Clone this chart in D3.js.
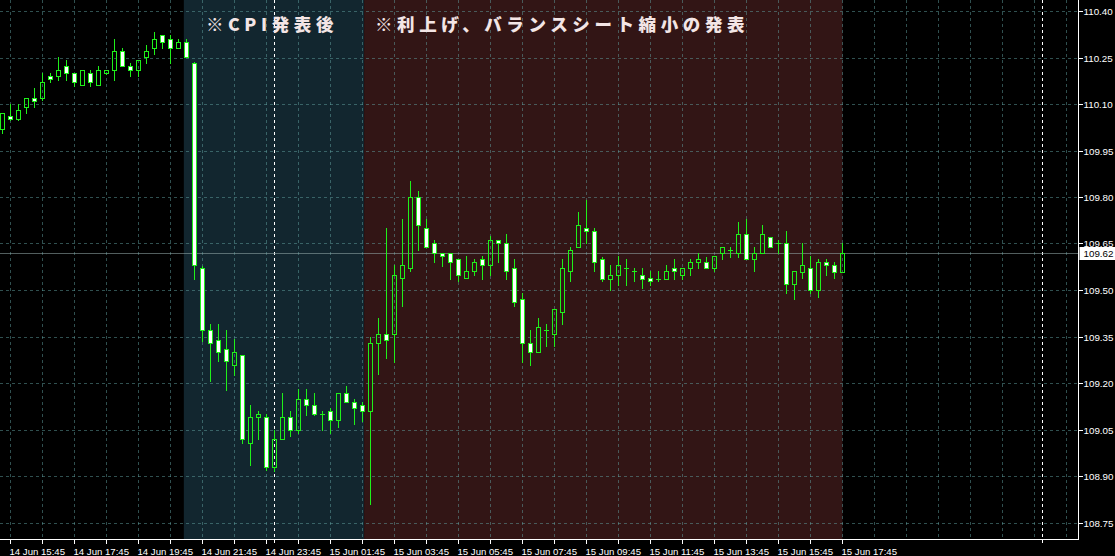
<!DOCTYPE html>
<html><head><meta charset="utf-8">
<script src="https://cdn.jsdelivr.net/npm/d3@7"></script>
<style>
html,body{margin:0;padding:0;background:#000;overflow:hidden}
svg{display:block}
</style>
</head><body>
<svg id="c" width="1115" height="556"></svg>
<script>
// ---------- data (USDJPY, M15) ----------
const firstBar = "2021-06-14 15:30";
const barMinutes = 15;
const open = [
110.019,110.062,110.052,110.090,110.119,110.118,110.190,110.189,110.223,110.200,
110.160,110.200,110.160,110.200,110.210,110.271,110.223,110.210,110.252,110.281,
110.323,110.310,110.281,110.300,110.232,109.571,109.371,109.339,109.310,109.257,
109.290,109.008,109.090,109.090,108.928,109.019,109.090,109.049,109.148,109.129,
109.100,109.111,109.081,109.168,109.139,109.129,109.110,109.329,109.358,109.358,
109.539,109.570,109.800,109.699,109.650,109.619,109.619,109.600,109.539,109.561,
109.600,109.581,109.661,109.652,109.571,109.471,109.329,109.299,109.371,109.358,
109.428,109.561,109.639,109.700,109.690,109.600,109.537,109.547,109.571,109.561,
109.548,109.539,109.537,109.537,109.571,109.547,109.571,109.590,109.590,109.571,
109.619,109.629,109.619,109.681,109.600,109.619,109.671,109.652,109.652,109.519,
109.559,109.571,109.499,109.590,109.581,109.559];
const high = [
110.071,110.101,110.101,110.119,110.152,110.200,110.200,110.252,110.243,110.200,
110.210,110.210,110.224,110.210,110.310,110.281,110.232,110.242,110.290,110.332,
110.323,110.323,110.310,110.310,110.236,109.579,109.390,109.390,109.372,109.342,
109.290,109.130,109.111,109.100,109.049,109.168,109.111,109.181,109.181,109.168,
109.111,109.119,109.168,109.191,109.148,109.139,109.348,109.411,109.700,109.581,
109.729,109.852,109.819,109.729,109.662,109.619,109.619,109.600,109.610,109.600,
109.610,109.673,109.661,109.682,109.600,109.490,109.371,109.410,109.390,109.439,
109.600,109.639,109.752,109.790,109.700,109.608,109.582,109.611,109.600,109.571,
109.571,109.561,109.561,109.581,109.600,109.571,109.600,109.619,109.608,109.610,
109.639,109.639,109.719,109.730,109.639,109.711,109.671,109.661,109.690,109.561,
109.652,109.611,109.600,109.600,109.590,109.652];
const low = [
110.008,110.050,110.049,110.071,110.090,110.114,110.170,110.178,110.178,110.159,
110.160,110.159,110.160,110.198,110.178,110.223,110.189,110.189,110.232,110.261,
110.281,110.232,110.281,110.252,109.536,109.337,109.207,109.270,109.178,109.227,
109.008,108.936,109.019,108.920,108.915,109.019,109.028,109.039,109.098,109.098,
109.049,109.039,109.057,109.139,109.068,109.079,108.810,109.229,109.281,109.268,
109.447,109.561,109.628,109.639,109.589,109.579,109.537,109.529,109.539,109.548,
109.537,109.548,109.589,109.537,109.447,109.268,109.257,109.299,109.318,109.318,
109.390,109.528,109.639,109.652,109.561,109.528,109.499,109.517,109.517,109.528,
109.508,109.517,109.528,109.537,109.537,109.537,109.547,109.571,109.571,109.560,
109.600,109.608,109.608,109.600,109.560,109.619,109.639,109.619,109.490,109.471,
109.539,109.490,109.479,109.549,109.539,109.559];
const close = [
110.071,110.052,110.082,110.119,110.110,110.172,110.181,110.210,110.200,110.170,
110.210,110.170,110.210,110.210,110.271,110.223,110.210,110.242,110.271,110.310,
110.300,110.281,110.300,110.252,109.581,109.371,109.329,109.300,109.270,109.300,
109.019,109.090,109.100,108.928,109.019,109.090,109.049,109.148,109.129,109.100,
109.100,109.081,109.168,109.139,109.119,109.110,109.329,109.358,109.339,109.548,
109.581,109.800,109.710,109.639,109.619,109.610,109.590,109.548,109.561,109.590,
109.581,109.661,109.652,109.561,109.461,109.329,109.299,109.381,109.371,109.439,
109.571,109.629,109.710,109.690,109.590,109.537,109.548,109.581,109.571,109.561,
109.537,109.528,109.537,109.561,109.561,109.571,109.590,109.600,109.571,109.610,
109.639,109.629,109.681,109.600,109.619,109.681,109.639,109.652,109.519,109.561,
109.581,109.499,109.590,109.581,109.559,109.620];

const priceTicks = [110.40,110.25,110.10,109.95,109.80,109.65,109.50,109.35,109.20,109.05,108.90,108.75];
const timeLabels = ["14 Jun 15:45","14 Jun 17:45","14 Jun 19:45","14 Jun 21:45","14 Jun 23:45",
  "15 Jun 01:45","15 Jun 03:45","15 Jun 05:45","15 Jun 07:45","15 Jun 09:45","15 Jun 11:45",
  "15 Jun 13:45","15 Jun 15:45","15 Jun 17:45"];
const lastPrice = 109.62;
const zoneStarts = ["2021-06-14 21:10","2021-06-15 02:48"];
const zoneEnds   = ["2021-06-15 02:48","2021-06-15 17:45"];
const separators = ["2021-06-15 00:00","2021-06-16 00:00"];
const notes = ["※CPI発表後","※利上げ、バランスシート縮小の発表"];

// ---------- layout / style ----------
const W = 1115, H = 556, axisX = 1078.5, axisY = 539.5;
const zoneColors = ["#12262f","#321515"];
const green = "#1ff01a";
const gridColor = "rgba(96,160,160,0.5)";

const parse = d3.timeParse("%Y-%m-%d %H:%M");
const parseLabel = d3.timeParse("%Y %d %b %H:%M");
const t0 = parse(firstBar);
const times = open.map((_, i) => d3.timeMinute.offset(t0, i * barMinutes));

const snap = (a, b) => t => Math.floor(a + (b - a) * t) + 0.5;
const x = d3.scaleTime()
  .domain([parse("2021-06-14 15:30"), parse("2021-06-16 00:00")])
  .range([2.5, 1042.5]);
const y = d3.scaleLinear().domain([108.75, 110.40]).range([523, 11.5]).interpolate(snap);

const svg = d3.select("#c");
svg.append("rect").attr("width", W).attr("height", H).attr("fill", "#000");

// shaded zones
svg.append("g").selectAll("rect").data(zoneStarts).join("rect")
  .attr("x", d => x(parse(d)))
  .attr("width", (d, i) => x(parse(zoneEnds[i])) - x(parse(d)))
  .attr("y", 0).attr("height", axisY - 0.5)
  .attr("fill", (d, i) => zoneColors[i]);

// grid
const grid = svg.append("g").attr("shape-rendering", "crispEdges")
  .attr("stroke", gridColor).attr("stroke-dasharray", "3,3");
grid.selectAll("line.h").data(priceTicks).join("line").attr("class", "h")
  .attr("x1", 0).attr("x2", axisX - 0.5).attr("y1", d => y(d)).attr("y2", d => y(d));
const hourGrid = [];
for (let t = parse("2021-06-14 15:45"); x(t) < axisX; t = d3.timeHour.offset(t, 1)) hourGrid.push(t);
grid.selectAll("line.v").data(hourGrid).join("line").attr("class", "v")
  .attr("x1", d => x(d)).attr("x2", d => x(d)).attr("y1", 0).attr("y2", axisY - 0.5);

// period separators
svg.append("g").attr("shape-rendering", "crispEdges").selectAll("line").data(separators).join("line")
  .attr("x1", d => x(parse(d))).attr("x2", d => x(parse(d)))
  .attr("y1", 0).attr("y2", axisY + 3)
  .attr("stroke", "#fff").attr("stroke-dasharray", "3,3");

// bid line
svg.append("line").attr("shape-rendering", "crispEdges")
  .attr("x1", 0).attr("x2", axisX - 0.5).attr("y1", y(lastPrice)).attr("y2", y(lastPrice))
  .attr("stroke", "rgba(150,172,172,0.55)");

// candles
const cg = svg.append("g").attr("shape-rendering", "crispEdges");
const bars = cg.selectAll("g").data(times).join("g");
bars.each(function (t, i) {
  const g = d3.select(this);
  const cx = x(t);
  const o = open[i], c = close[i];
  const top = y(Math.max(o, c)), bot = y(Math.min(o, c));
  const hy = y(high[i]), ly = y(low[i]);
  if (hy < top) g.append("line").attr("x1", cx).attr("x2", cx).attr("y1", hy - 0.5).attr("y2", top).attr("stroke", green);
  if (ly > bot) g.append("line").attr("x1", cx).attr("x2", cx).attr("y1", bot).attr("y2", ly + 0.5).attr("stroke", green);
  if (bot - top < 1) {
    g.append("line").attr("x1", cx - 2.5).attr("x2", cx + 2.5).attr("y1", top).attr("y2", top).attr("stroke", green);
  } else {
    g.append("rect").attr("x", cx - 2).attr("width", 4).attr("y", top).attr("height", bot - top)
      .attr("fill", c < o ? "#ffffff" : "none").attr("stroke", green);
  }
});

// axes
const font = "'Liberation Sans', Arial, sans-serif";
const yAxis = d3.axisRight(y).tickValues(priceTicks).tickSize(4).tickFormat(d3.format(".2f")).offset(0);
const gy = svg.append("g").attr("transform", `translate(${axisX},0)`).call(yAxis);
gy.select(".domain").remove();
gy.selectAll(".tick line").attr("stroke", "#fff").attr("shape-rendering", "crispEdges");
gy.selectAll(".tick text").attr("fill", "#fff").attr("x", 5).attr("dy", "0.34em")
  .style("font-family", font).style("font-size", "9.8px");

const hourTicks = [];
for (let t = parse("2021-06-14 15:45"); t <= times[times.length - 1]; t = d3.timeHour.offset(t, 1)) hourTicks.push(t);
const labelMap = new Map(timeLabels.map(s => [+parseLabel("2021 " + s), s]));
const xAxis = d3.axisBottom(x).tickValues(hourTicks).tickSize(4).offset(0)
  .tickFormat(d => labelMap.get(+d) || "");
const gx = svg.append("g").attr("transform", `translate(0,${axisY})`).call(xAxis);
gx.select(".domain").remove();
gx.selectAll(".tick line").attr("stroke", "#fff").attr("shape-rendering", "crispEdges");
gx.selectAll(".tick text").attr("fill", "#fff").attr("text-anchor", "start")
  .attr("x", -1).attr("y", 15).attr("dy", 0)
  .style("font-family", font).style("font-size", "9.6px");

// axis lines
svg.append("line").attr("shape-rendering", "crispEdges")
  .attr("x1", axisX).attr("x2", axisX).attr("y1", 0).attr("y2", axisY).attr("stroke", "#fff");
svg.append("line").attr("shape-rendering", "crispEdges")
  .attr("x1", 0).attr("x2", axisX).attr("y1", axisY).attr("y2", axisY).attr("stroke", "#fff");

// last price label
const bidY = y(lastPrice);
svg.append("rect").attr("x", axisX + 1).attr("y", Math.floor(bidY) - 6).attr("width", W - axisX - 1).attr("height", 13).attr("fill", "#fff");
svg.append("text").attr("x", axisX + 5).attr("y", bidY).attr("dy", "0.34em")
  .style("font-family", font).style("font-size", "9.8px").attr("fill", "#000")
  .text(d3.format(".2f")(lastPrice));

// annotations
svg.append("g").selectAll("text").data(notes).join("text")
  .attr("x", (d, i) => [206, 375][i]).attr("y", 30.5)
  .attr("fill", "#f3e5e5")
  .style("font-family", "'Noto Sans CJK JP', sans-serif")
  .style("font-weight", 900).style("font-size", "17.5px").style("letter-spacing", "4.6px")
  .text(d => d);
</script>
</body></html>
